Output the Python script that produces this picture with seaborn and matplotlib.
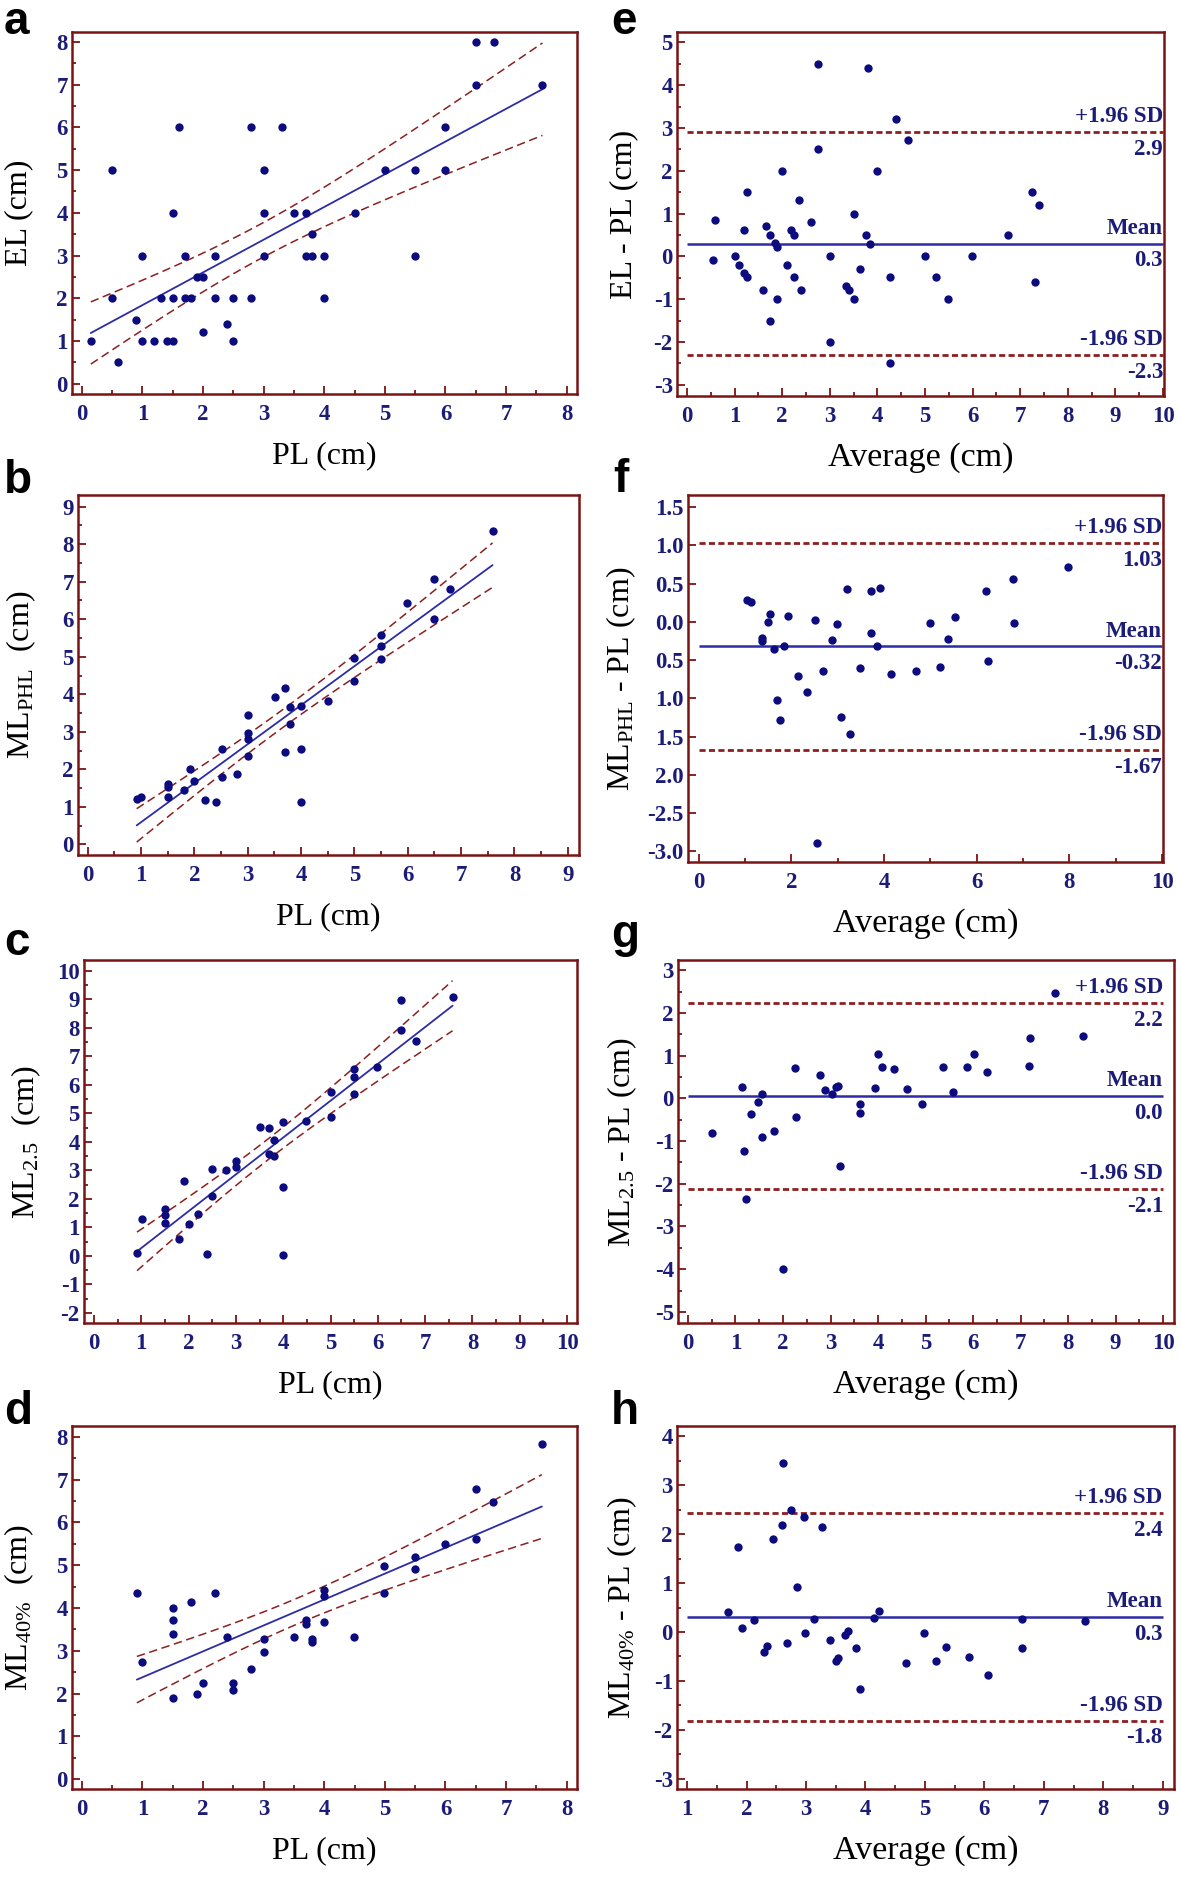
import numpy as np
import seaborn as sns
import matplotlib.pyplot as plt
from matplotlib.ticker import MultipleLocator, FixedLocator, FixedFormatter

# ---- data ----
# a: EL vs PL
a_pl = [0.15, 0.5, 0.5, 0.6, 0.9, 1.0, 1.0, 1.2, 1.3, 1.4, 1.5, 1.5, 1.5, 1.6, 1.7, 1.7, 1.8, 1.9, 2.0, 2.0,
        2.2, 2.2, 2.4, 2.5, 2.5, 2.8, 2.8, 3.0, 3.0, 3.0, 3.3, 3.5, 3.7, 3.7, 3.8, 3.8, 4.0, 4.0, 4.5, 5.0,
        5.5, 5.5, 6.0, 6.0, 6.5, 6.5, 6.8, 7.6]
a_el = [1.0, 5.0, 2.0, 0.5, 1.5, 3.0, 1.0, 1.0, 2.0, 1.0, 1.0, 2.0, 4.0, 6.0, 3.0, 2.0, 2.0, 2.5, 2.5, 1.2,
        3.0, 2.0, 1.4, 2.0, 1.0, 6.0, 2.0, 5.0, 4.0, 3.0, 6.0, 4.0, 4.0, 3.0, 3.0, 3.5, 3.0, 2.0, 4.0, 5.0,
        5.0, 3.0, 6.0, 5.0, 8.0, 7.0, 8.0, 7.0]

# b: ML_PHL vs PL
b_pl = [0.92, 1.01, 1.5, 1.5, 1.5, 1.8, 1.92, 2.0, 2.2, 2.41, 2.51, 2.51, 2.8, 3.0, 3.0, 3.0, 3.0, 3.51,
        3.7, 3.7, 3.8, 3.8, 4.0, 4.0, 4.0, 4.51, 4.99, 4.99, 5.5, 5.5, 5.5, 5.99, 6.5, 6.5, 6.8, 7.59]
b_ml = [1.20, 1.26, 1.62, 1.53, 1.26, 1.46, 2.0, 1.70, 1.18, 1.13, 2.55, 1.79, 1.89, 3.45, 2.98, 2.80, 2.36,
        3.92, 4.16, 2.47, 3.66, 3.21, 3.68, 2.55, 1.13, 3.82, 4.98, 4.36, 5.57, 5.29, 4.93, 6.43, 7.07, 6.0,
        6.81, 8.34]

# c: ML_2.5 vs PL
c_pl = [0.91, 1.01, 1.5, 1.5, 1.5, 1.8, 1.9, 2.0, 2.19, 2.4, 2.5, 2.5, 2.8, 3.0, 3.0, 3.5, 3.7, 3.7, 3.8,
        3.8, 4.0, 4.0, 4.0, 4.49, 5.0, 5.0, 5.5, 5.5, 5.5, 5.99, 6.5, 6.5, 6.8, 7.58]
c_ml = [0.12, 1.29, 1.63, 1.43, 1.15, 0.60, 2.62, 1.12, 1.46, 0.07, 3.06, 2.09, 3.0, 3.33, 3.11, 4.53, 4.49,
        3.58, 4.06, 3.49, 4.69, 2.43, 0.02, 4.74, 5.73, 4.87, 6.54, 6.26, 5.67, 6.63, 8.96, 7.92, 7.54, 9.06]

# d: ML_40% vs PL
d_pl = [0.91, 1.0, 1.5, 1.5, 1.5, 1.5, 1.8, 1.9, 2.0, 2.2, 2.4, 2.5, 2.5, 2.8, 3.0, 3.0, 3.5, 3.7, 3.7,
        3.8, 3.8, 3.99, 3.99, 3.99, 4.49, 4.99, 4.99, 5.49, 5.49, 5.99, 6.5, 6.5, 6.79, 7.59]
d_ml = [4.35, 2.74, 3.99, 3.71, 3.39, 1.89, 4.14, 1.99, 2.24, 4.35, 3.33, 2.24, 2.09, 2.57, 3.27, 2.98, 3.33,
        3.71, 3.63, 3.27, 3.20, 4.42, 4.29, 3.68, 3.33, 4.98, 4.35, 5.19, 4.90, 5.49, 6.78, 5.62, 6.47, 7.83]

# e-h: Bland-Altman (average, difference)
e_avg = [0.59, 0.55, 1.0, 1.1, 1.2, 1.2, 1.26, 1.26, 1.6, 1.65, 1.74, 1.74, 1.85, 1.89, 1.89, 2.0, 2.1,
         2.19, 2.25, 2.25, 2.36, 2.4, 2.6, 2.75, 2.75, 3.0, 3.0, 3.35, 3.4, 3.5, 3.5, 3.64, 3.75, 3.8, 3.85,
         4.0, 4.26, 4.26, 4.39, 4.65, 4.99, 5.24, 5.49, 5.99, 6.75, 7.25, 7.3, 7.39]
e_diff = [0.86, -0.09, 0.0, -0.2, 0.61, -0.39, 1.5, -0.49, -0.79, 0.70, 0.51, -1.5, 0.32, 0.21, -1.0, 2.0,
          -0.2, 0.61, 0.51, -0.49, 1.31, -0.79, 0.80, 4.5, 2.5, 0.0, -2.0, -0.69, -0.79, 1.0, -1.0, -0.30,
          0.51, 4.41, 0.30, 2.0, -0.49, -2.49, 3.2, 2.71, 0.0, -0.49, -1.0, 0.0, 0.51, 1.5, -0.6, 1.21]

f_avg = [1.04, 1.12, 1.37, 1.37, 1.5, 1.54, 1.63, 1.69, 1.76, 1.84, 1.93, 2.14, 2.34, 2.50, 2.55, 2.68, 2.88,
         2.98, 3.07, 3.2, 3.27, 3.49, 3.71, 3.72, 3.84, 3.92, 4.16, 4.68, 4.99, 5.2, 5.39, 5.53, 6.20, 6.24,
         6.79, 6.80, 7.96]
f_diff = [0.29, 0.26, -0.21, -0.25, 0.0, 0.10, -0.35, -1.02, -1.28, -0.32, 0.08, -0.71, -0.92, 0.03, -2.89,
          -0.64, -0.24, -0.03, -1.25, 0.43, -1.47, -0.60, 0.41, -0.14, -0.32, 0.44, -0.68, -0.64, -0.02,
          -0.59, -0.22, 0.07, 0.41, -0.51, 0.56, -0.01, 0.72]

g_avg = [0.51, 1.13, 1.18, 1.23, 1.32, 1.47, 1.55, 1.55, 1.82, 2.0, 2.25, 2.28, 2.77, 2.89, 3.04, 3.12, 3.16,
         3.21, 3.63, 3.63, 3.93, 4.01, 4.08, 4.34, 4.61, 4.93, 5.36, 5.58, 5.87, 6.01, 6.29, 7.17, 7.2, 7.73,
         8.32]
g_diff = [-0.80, 0.26, -1.23, -2.35, -0.37, -0.09, 0.10, -0.90, -0.76, -3.99, 0.71, -0.44, 0.54, 0.19, 0.11,
          0.26, 0.30, -1.58, -0.14, -0.34, 0.24, 1.03, 0.74, 0.68, 0.22, -0.14, 0.73, 0.16, 0.74, 1.03, 0.61,
          0.75, 1.42, 2.46, 1.45]

h_avg = [1.69, 1.86, 1.93, 2.12, 2.29, 2.34, 2.45, 2.59, 2.62, 2.68, 2.75, 2.85, 2.96, 2.98, 3.13, 3.27, 3.40,
         3.50, 3.53, 3.66, 3.70, 3.84, 3.91, 4.15, 4.22, 4.69, 4.98, 5.19, 5.35, 5.74, 6.06, 6.63, 6.63, 7.70]
h_diff = [0.40, 1.74, 0.08, 0.24, -0.40, -0.29, 1.89, 2.19, 3.45, -0.23, 2.49, 0.91, 2.34, -0.03, 0.27, 2.15,
          -0.16, -0.60, -0.53, -0.06, 0.01, -0.32, -1.16, 0.28, 0.42, -0.64, -0.02, -0.60, -0.31, -0.51, -0.87,
          0.27, -0.32, 0.23]

# limits of agreement (upper, mean, lower) and their printed values
e_limits = [2.90, 0.30, -2.31]
f_limits = [1.03, -0.32, -1.67]
g_limits = [2.23, 0.05, -2.12]
h_limits = [2.44, 0.31, -1.81]
e_labels = ["2.9", "0.3", "-2.3"]
f_labels = ["1.03", "-0.32", "-1.67"]
g_labels = ["2.2", "0.0", "-2.1"]
h_labels = ["2.4", "0.3", "-1.8"]

f_ytick_labels = ["-3.0", "-2.5", "2.0", "1.5", "1.0", "0.5", "0.0", "0.5", "1.0", "1.5"]

# ---- style ----
sns.set_theme(style="white")
plt.rcParams['font.family'] = ['Liberation Serif', 'DejaVu Serif']
plt.rcParams['mathtext.fontset'] = 'custom'
plt.rcParams['mathtext.rm'] = 'Liberation Serif'
plt.rcParams['mathtext.it'] = 'Liberation Serif:italic'
plt.rcParams['axes.unicode_minus'] = False

NAVY = '#0c0c7e'
TXT = '#1b1b78'
LINE = '#2c2ca6'
RED = '#8c1f1f'
SPINE = '#7a1414'

W, H = 1181, 1877
fig = plt.figure(figsize=(W / 100, H / 100), dpi=100)


def make_axes(l, r, t, b):
    return fig.add_axes([l / W, 1 - b / H, (r - l) / W, (b - t) / H])


def style_axes(ax, xlim, ylim, xmaj, ymaj, xmin=0.5, ymin=0.5):
    ax.set_xlim(*xlim)
    ax.set_ylim(*ylim)
    ax.xaxis.set_major_locator(FixedLocator(xmaj))
    ax.yaxis.set_major_locator(FixedLocator(ymaj))
    if xmin:
        ax.xaxis.set_minor_locator(MultipleLocator(xmin))
    if ymin:
        ax.yaxis.set_minor_locator(MultipleLocator(ymin))
    ax.set_xticklabels([f"{v:g}" for v in xmaj])
    ax.set_yticklabels([f"{v:g}" for v in ymaj])
    for s in ax.spines.values():
        s.set_color(SPINE)
        s.set_linewidth(1.8)
    ax.tick_params(which='both', direction='in', color=SPINE, width=1.3,
                   bottom=True, left=True, top=False, right=False)
    ax.tick_params(which='major', length=6)
    ax.tick_params(which='minor', length=3)
    ax.tick_params(axis='x', which='major', pad=7.5)
    ax.tick_params(axis='y', which='major', pad=3)
    for lab in ax.get_xticklabels() + ax.get_yticklabels():
        lab.set_fontsize(16.5)
        lab.set_fontweight('bold')
        lab.set_color(TXT)
    ax.set_xlabel('')
    ax.set_ylabel('')


def regression(ax, x, y, t=2.03):
    x = np.asarray(x, float)
    y = np.asarray(y, float)
    slope, icpt = np.polyfit(x, y, 1)
    xs = np.linspace(x.min(), x.max(), 60)
    yh = icpt + slope * xs
    n = len(x)
    s = np.sqrt(((y - (icpt + slope * x)) ** 2).sum() / (n - 2))
    se = s * np.sqrt(1 / n + (xs - x.mean()) ** 2 / ((x - x.mean()) ** 2).sum())
    sns.lineplot(x=xs, y=yh, ax=ax, color=LINE, lw=1.3, zorder=2)
    for band in (yh + t * se, yh - t * se):
        sns.lineplot(x=xs, y=band, ax=ax, color=RED, lw=1.1, linestyle=(0, (5.5, 3)), zorder=2)
    sns.scatterplot(x=x, y=y, ax=ax, color=NAVY, s=36, linewidth=0, zorder=3)


def bland_altman(ax, x, y, limits, labels, x0, x1):
    sns.scatterplot(x=x, y=y, ax=ax, color=NAVY, s=36, linewidth=0, zorder=3)
    up, mean, low = limits
    ax.hlines([up, low], x0, x1, colors=RED, lw=2.0, linestyles=[(0, (2.2, 1.2))], zorder=2)
    ax.hlines([mean], x0, x1, colors=LINE, lw=1.8, zorder=2)
    for val, top, bottom in zip(limits, ["+1.96 SD", "Mean", "-1.96 SD"], labels):
        ax.annotate(top, xy=(x1, val), xytext=(0, 3.5), textcoords='offset points',
                    ha='right', va='bottom', fontsize=16.5, fontweight='bold', color=TXT)
        ax.annotate(bottom, xy=(x1, val), xytext=(0, -5), textcoords='offset points',
                    ha='right', va='top', fontsize=16.5, fontweight='bold', color=TXT)


def xlabel(ax_box, text, size=23):
    l, r, t, b = ax_box
    fig.text((l + r) / 2 / W, 1 - (b + 62) / H, text, ha='center', va='center', fontsize=size, color='black')


def ylabel(xc, ax_box, text):
    l, r, t, b = ax_box
    fig.text(xc / W, 1 - (t + b) / 2 / H, text, ha='center', va='center', rotation=90,
             fontsize=23, color='black')


def letter(x, y, s):
    fig.text(x / W, 1 - y / H, s, ha='left', va='baseline', fontsize=33, fontweight='bold',
             family='Liberation Sans', color='black')


# ---- panel boxes in pixels (left, right, top, bottom) ----
box_a = (72, 577, 32, 394)
box_e = (677, 1164, 32, 396)
box_b = (78, 579, 495, 855)
box_f = (688, 1163, 495, 862)
box_c = (84, 577, 960, 1323)
box_g = (678, 1174, 960, 1323)
box_d = (72, 577, 1426, 1789)
box_h = (677, 1174, 1426, 1789)

# a
ax = make_axes(*box_a)
regression(ax, a_pl, a_el)
style_axes(ax, (-0.16, 8.17), (-0.24, 8.23), range(0, 9), range(0, 9))
xlabel(box_a, "PL (cm)")
ylabel(19, box_a, "EL (cm)")
letter(4, 34, "a")

# b
ax = make_axes(*box_b)
regression(ax, b_pl, b_ml)
style_axes(ax, (-0.18, 9.21), (-0.28, 9.31), range(0, 10), range(0, 10))
xlabel(box_b, "PL (cm)")
ylabel(21, box_b, r"ML$_{\mathrm{PHL}}$  (cm)")
letter(4, 493, "b")

# c
ax = make_axes(*box_c)
regression(ax, c_pl, c_ml)
style_axes(ax, (-0.21, 10.21), (-2.35, 10.37), range(0, 11), range(-2, 11))
xlabel(box_c, "PL (cm)")
ylabel(26, box_c, r"ML$_{\mathit{2.5}}$  (cm)")
letter(4, 955, "c")

# d
ax = make_axes(*box_d)
regression(ax, d_pl, d_ml)
style_axes(ax, (-0.16, 8.17), (-0.23, 8.25), range(0, 9), range(0, 9))
xlabel(box_d, "PL (cm)")
ylabel(19, box_d, r"ML$_{\mathrm{40\%}}$  (cm)")
letter(4, 1424, "d")

# e
ax = make_axes(*box_e)
bland_altman(ax, e_avg, e_diff, e_limits, e_labels, 0, 10)
style_axes(ax, (-0.21, 10.02), (-3.26, 5.24), range(0, 11), range(-3, 6))
xlabel(box_e, "Average (cm)", 24.5)
ylabel(624, box_e, "EL - PL (cm)")
letter(611, 34, "e")

# f
ax = make_axes(*box_f)
bland_altman(ax, f_avg, f_diff, f_limits, f_labels, 0, 10)
f_yticks = np.arange(-3.0, 1.51, 0.5)
style_axes(ax, (-0.23, 10.02), (-3.14, 1.66), range(0, 11, 2), f_yticks, xmin=1, ymin=None)
ax.yaxis.set_major_formatter(FixedFormatter(f_ytick_labels))
xlabel(box_f, "Average (cm)", 24.5)
ylabel(621, box_f, r"ML$_{\mathrm{PHL}}$ - PL (cm)")
letter(613, 492, "f")

# g
ax = make_axes(*box_g)
bland_altman(ax, g_avg, g_diff, g_limits, g_labels, 0, 10)
style_axes(ax, (-0.21, 10.23), (-5.26, 3.24), range(0, 11), range(-5, 4))
xlabel(box_g, "Average (cm)", 24.5)
ylabel(622, box_g, r"ML$_{\mathit{2.5}}$ - PL (cm)")
letter(611, 947, "g")

# h
ax = make_axes(*box_h)
bland_altman(ax, h_avg, h_diff, h_limits, h_labels, 1, 9)
style_axes(ax, (0.83, 9.19), (-3.21, 4.21), range(1, 10), range(-3, 5))
xlabel(box_h, "Average (cm)", 24.5)
ylabel(622, box_h, r"ML$_{\mathrm{40\%}}$ - PL (cm)")
letter(611, 1424, "h")

fig.savefig("out.png", dpi=100, facecolor='white')
